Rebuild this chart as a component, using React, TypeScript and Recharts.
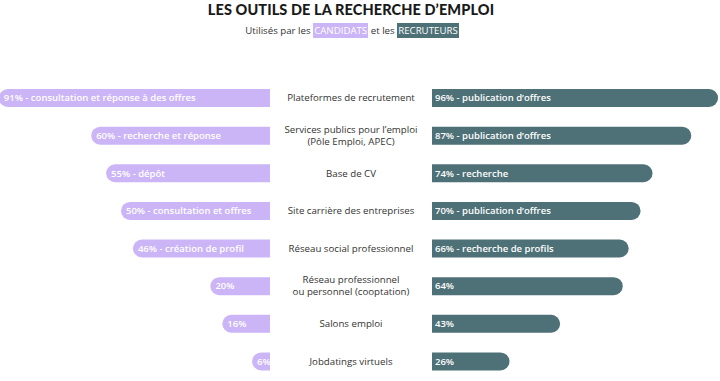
import React from "react";
import { BarChart, Bar, XAxis, YAxis, LabelList } from "recharts";

const categories = [
  "Plateformes de recrutement",
  "Services publics pour l’emploi\n(Pôle Emploi, APEC)",
  "Base de CV",
  "Site carrière des entreprises",
  "Réseau social professionnel",
  "Réseau professionnel\nou personnel (cooptation)",
  "Salons emploi",
  "Jobdatings virtuels",
];
const candidats = [91, 60, 55, 50, 46, 20, 16, 6];
const candidatsUsage = [
  "consultation et réponse à des offres",
  "recherche et réponse",
  "dépôt",
  "consultation et offres",
  "création de profil",
  "",
  "",
  "",
];
const recruteurs = [96, 87, 74, 70, 66, 64, 43, 26];
const recruteursUsage = [
  "publication d’offres",
  "publication d’offres",
  "recherche",
  "publication d’offres",
  "recherche de profils",
  "",
  "",
  "",
];

const LAV = "#cbb5f7";
const TEAL = "#4e7177";
const FONT = "'Open Sans', Lato, sans-serif";
const TITLE_FONT = "Lato, 'Open Sans', sans-serif";

const data = categories.map((c, i) => ({
  cat: c,
  cand: candidats[i],
  rec: recruteurs[i],
  candLabel: candidatsUsage[i] ? `${candidats[i]}% - ${candidatsUsage[i]}` : `${candidats[i]}%`,
  recLabel: recruteursUsage[i] ? `${recruteurs[i]}% - ${recruteursUsage[i]}` : `${recruteurs[i]}%`,
}));

const RoundBar = (props: any) => {
  const { x, y, width, height, fill, side } = props;
  const L = Math.min(x, x + width);
  const w = Math.abs(width);
  const h = height;
  const r = Math.min(h / 2, w);
  let d = "";
  if (side === "left") {
    d = `M${L + r},${y} H${L + w} V${y + h} H${L + r} A${r},${r} 0 0 1 ${L},${y + h - r} V${y + r} A${r},${r} 0 0 1 ${L + r},${y} Z`;
  } else {
    const R = L + w;
    d = `M${L},${y} H${R - r} A${r},${r} 0 0 1 ${R},${y + r} V${y + h - r} A${r},${r} 0 0 1 ${R - r},${y + h} H${L} Z`;
  }
  return <path d={d} fill={fill} />;
};

const BarText = (props: any) => {
  const { x, y, width, height, value, side } = props;
  const L = Math.min(x, x + width);
  return (
    <text
      x={L + (side === "left" ? 5 : 3)}
      y={y + height / 2}
      dy="0.35em"
      fill="#ffffff"
      fontSize={9.5}
      fontWeight={600}
      fontFamily={FONT}
      textAnchor="start"
    >
      {value}
    </text>
  );
};

const CatTick = (props: any) => {
  const { x, y, payload } = props;
  const lines = String(payload.value).split("\n");
  const lh = 12;
  const start = -((lines.length - 1) * lh) / 2;
  return (
    <text
      x={x + 81}
      y={y}
      textAnchor="middle"
      fontSize={9.7}
      fontFamily={FONT}
      fill="#333333"
    >
      {lines.map((l, i) => (
        <tspan key={i} x={x + 81} dy={i === 0 ? start + 3.5 : lh}>
          {l}
        </tspan>
      ))}
    </text>
  );
};

export default function App() {
  return (
    <div
      style={{
        position: "absolute",
        left: 0,
        top: 0,
        width: 720,
        height: 381,
        overflow: "hidden",
        background: "#ffffff",
        fontFamily: FONT,
      }}
    >
      <div
        style={{
          position: "absolute",
          left: 0,
          width: 702,
          top: 1,
          textAlign: "center",
          fontSize: 14.5,
          fontWeight: 900,
          color: "#1a1a1a",
          letterSpacing: 0.1,
          fontFamily: TITLE_FONT,
        }}
      >
        LES OUTILS DE LA RECHERCHE D’EMPLOI
      </div>
      <div
        style={{
          position: "absolute",
          left: 0,
          width: 704,
          top: 24,
          textAlign: "center",
          fontSize: 9.7,
          color: "#333333",
        }}
      >
        Utilisés par les{" "}
        <span style={{ background: LAV, color: "#fff", padding: "1px 1px" }}>CANDIDATS</span>{" "}
        et les{" "}
        <span style={{ background: TEAL, color: "#fff", padding: "1px 1px" }}>RECRUTEURS</span>
      </div>

      <div style={{ position: "absolute", left: -28, top: 79 }}>
        <BarChart
          width={460}
          height={301}
          data={data}
          layout="vertical"
          margin={{ top: 0, right: 0, bottom: 0, left: 0 }}
          barCategoryGap={0}
        >
          <XAxis type="number" domain={[0, 100]} reversed hide />
          <YAxis
            type="category"
            dataKey="cat"
            orientation="right"
            width={162}
            axisLine={false}
            tickLine={false}
            tickSize={0}
            tickMargin={0}
            interval={0}
            tick={<CatTick />}
          />
          <Bar
            dataKey="cand"
            fill={LAV}
            barSize={18}
            isAnimationActive={false}
            shape={(p: any) => <RoundBar {...p} side="left" />}
          >
            <LabelList dataKey="candLabel" content={(p: any) => <BarText {...p} side="left" />} />
          </Bar>
        </BarChart>
      </div>

      <div style={{ position: "absolute", left: 432, top: 79 }}>
        <BarChart
          width={298}
          height={301}
          data={data}
          layout="vertical"
          margin={{ top: 0, right: 0, bottom: 0, left: 0 }}
        >
          <XAxis type="number" domain={[0, 100]} hide />
          <YAxis type="category" dataKey="cat" hide />
          <Bar
            dataKey="rec"
            fill={TEAL}
            barSize={18}
            isAnimationActive={false}
            shape={(p: any) => <RoundBar {...p} side="right" />}
          >
            <LabelList dataKey="recLabel" content={(p: any) => <BarText {...p} side="right" />} />
          </Bar>
        </BarChart>
      </div>
    </div>
  );
}
